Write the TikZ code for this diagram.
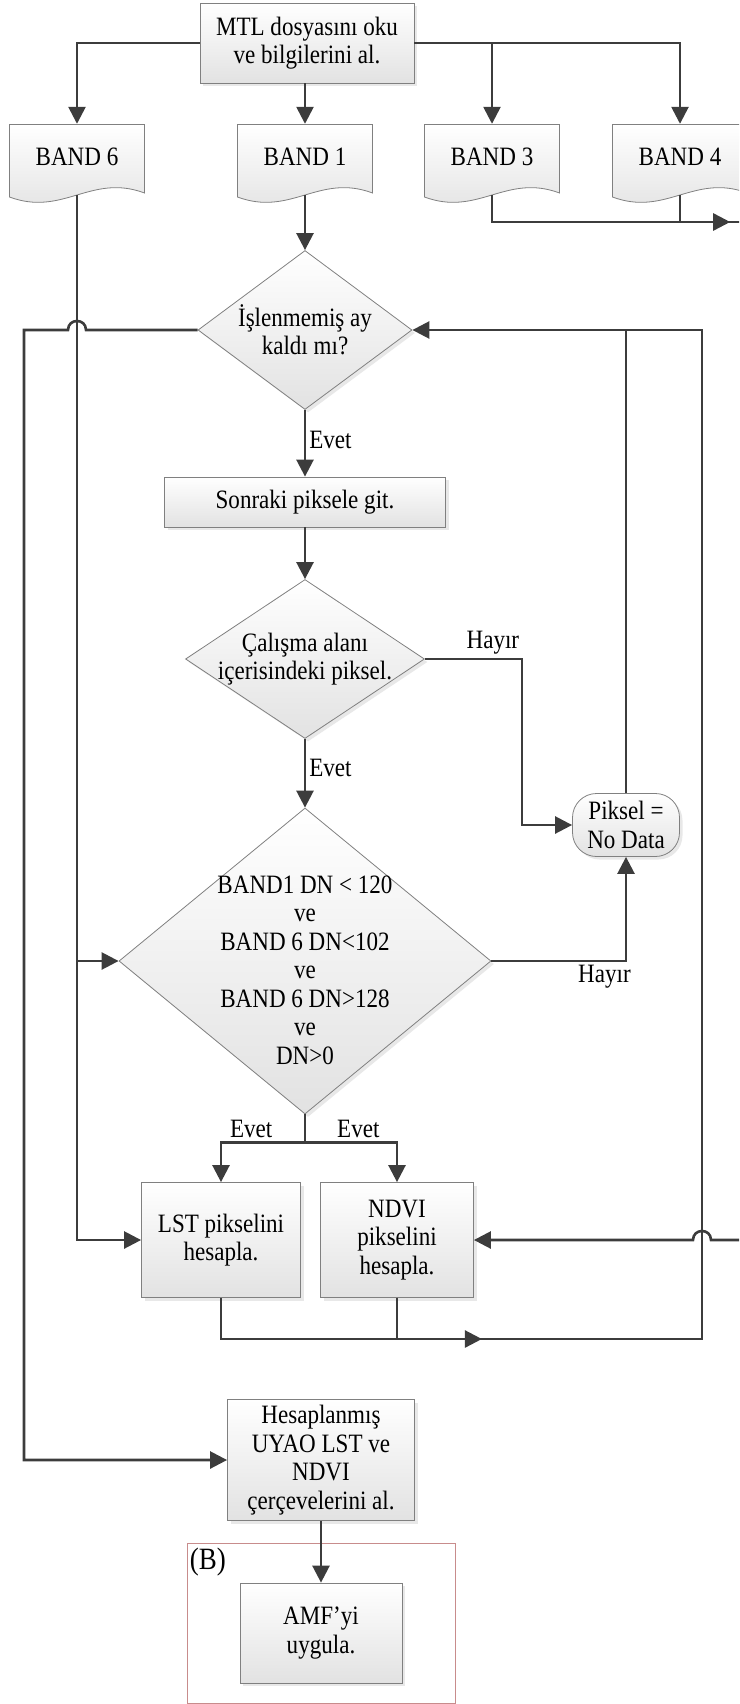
\documentclass[tikz,border=0pt]{standalone}
\usepackage{fontspec}
\setmainfont[FakeStretch=0.87]{Liberation Serif}
\usepackage{tikz}
\usetikzlibrary{arrows.meta, positioning, shapes.geometric, shadows, decorations.markings, calc}

\definecolor{linec}{RGB}{60,60,60}
\definecolor{boxline}{RGB}{128,128,128}
\definecolor{boxbot}{RGB}{226,226,226}
\definecolor{frameB}{RGB}{200,140,140}

\begin{document}
\begin{tikzpicture}[x=1pt, y=-1pt,
            font=\fontsize{26.5}{28.5}\selectfont,
            box/.style={draw=boxline, line width=0.8pt,
                    top color=white, bottom color=boxbot,
                    drop shadow={shadow xshift=3pt, shadow yshift=-3pt, opacity=0.18},
                    align=center, inner sep=2pt},
            decision/.style={box, diamond, inner sep=-25pt},
            pnode/.style={box, rounded corners=24pt,
                    minimum width=107pt, minimum height=63pt},
            doc/.style={minimum width=136pt, minimum height=80pt, inner sep=0pt,
                    path picture={
                        \path[draw=boxline, line width=0.8pt, top color=white, bottom color=boxbot]
                          ([shift={(0.5pt,-0.5pt)}]path picture bounding box.north west)
                          -- ([shift={(-0.5pt,-0.5pt)}]path picture bounding box.north east)
                          -- ([shift={(-0.5pt,11pt)}]path picture bounding box.south east)
                          .. controls ([shift={(-54pt,31pt)}]path picture bounding box.south east)
                          and ([shift={(54pt,-13pt)}]path picture bounding box.south west)
                          .. ([shift={(0.5pt,7pt)}]path picture bounding box.south west) -- cycle;
                    }},
            lbl/.style={inner sep=3pt},
            wire/.style={draw=linec, line width=2.6pt},
            arr/.style={wire, -{Triangle[length=17pt, width=17pt]}},
            midarr/.style={postaction={decorate},
                    decoration={markings, mark=at position #1 with
                        {\arrow[linec]{Triangle[length=17pt, width=17pt]}}}}
        ]

        \useasboundingbox (0,0) rectangle (739,1704);
        \clip (0,0) rectangle (739,1704);

        % ---------------------------------------------------------------
        % NODES
        % ---------------------------------------------------------------

        % Input file and bands
        \node[box, minimum width=214pt, minimum height=80pt] (mtl) at (307,43)
            {MTL dosyasını oku\\ve bilgilerini al.};
        \node[doc] (band6) at (77,164) {\raisebox{7pt}[\height][\depth]{BAND 6}};
        \node[doc] (band1) at (305,164) {\raisebox{7pt}[\height][\depth]{BAND 1}};
        \node[doc] (band3) at (492,164) {\raisebox{7pt}[\height][\depth]{BAND 3}};
        \node[doc] (band4) at (680,164) {\raisebox{7pt}[\height][\depth]{BAND 4}};

        % Pixel loop
        \node[decision, minimum width=214pt, minimum height=159pt] (dec1) at (305,330)
            {İşlenmemiş ay\\kaldı mı?};
        \node[box, minimum width=281pt, minimum height=50pt] (next) at (305,502)
            {Sonraki piksele git.};
        \node[decision, minimum width=239pt, minimum height=159pt] (dec2) at (305,659)
            {Çalışma alanı\\içerisindeki piksel.};
        \node[pnode] (piksel) at (626,825) {Piksel =\\No Data};
        \node[decision, minimum width=372pt, minimum height=306pt] (dec3) at (305,961)
            {\raisebox{-12pt}[\height][\depth]{\begin{tabular}{@{}c@{}}BAND1 DN < 120\\ve\\BAND 6 DN<102\\ve\\BAND 6 DN>128\\ve\\DN>0\end{tabular}}};

        % Calculation
        \node[box, minimum width=159pt, minimum height=115pt] (lst) at (221,1240)
            {LST pikselini\\hesapla.};
        \node[box, minimum width=153pt, minimum height=115pt] (ndvi) at (397,1240)
            {NDVI\\pikselini\\hesapla.};
        \node[box, minimum width=187pt, minimum height=121pt] (hes) at (321,1460)
            {Hesaplanmış\\UYAO LST ve\\NDVI\\çerçevelerini al.};

        % Part (B)
        \node[draw=frameB, line width=0.8pt, minimum width=268pt, minimum height=160pt] (grpB) at (321,1623) {};
        \node[anchor=north west, font=\fontsize{31}{33}\selectfont, inner xsep=3pt, inner ysep=5pt]
            (lblB) at (grpB.north west) {(B)};
        \node[box, minimum width=162pt, minimum height=100pt] (amf) at (321,1633)
            {AMF’yi\\uygula.};

        % ---------------------------------------------------------------
        % CONNECTORS
        % ---------------------------------------------------------------

        % MTL to the bands
        \draw[arr] (mtl.west) -| (band6.north);
        \draw[arr] (band1.north |- mtl.south) -- (band1.north);
        \draw[arr] (mtl.east) -| (band4.north);
        \draw[arr] (band3.north |- mtl.east) -- (band3.north);

        % BAND 3 and BAND 4 leave to the right
        \coordinate (rout) at (760,222);
        \draw[wire, midarr=265pt] ([yshift=9pt]band3.south) |- (rout);
        \draw[wire] ([yshift=9pt]band4.south) -- (band4.south |- rout);

        % BAND 1 into the loop
        \draw[arr] ([yshift=9pt]band1.south) -- (dec1.north);

        % BAND 6 to LST and to the threshold test
        \draw[arr] ([yshift=9pt]band6.south) |- (lst.west);
        \draw[arr] (band6.south |- dec3.west) -- (dec3.west);

        % Loop finished: go to the result (hop over BAND 6)
        \coordinate (lloop) at (24,330);
        \draw[arr] (dec1.west) -- ([xshift=9pt]band6.south |- dec1.west)
            .. controls +(0,-12) and +(0,-12) .. ([xshift=-9pt]band6.south |- dec1.west)
            -- (lloop) |- (hes.west);

        % Main pixel path
        \draw[arr] (dec1.south) -- node[lbl, right, pos=0.45] {Evet} (next.north);
        \draw[arr] (next.south) -- (dec2.north);
        \draw[arr] (dec2.south) -- node[lbl, right, pos=0.42] {Evet} (dec3.north);

        % No branches to No Data
        \coordinate (hbend) at (522,659);
        \draw[arr] (dec2.east) -- node[lbl, above, pos=0.7] {Hayır} (hbend) |- (piksel.west);
        \draw[arr] (dec3.east) -| node[lbl, below, pos=0.42] {Hayır} (piksel.south);
        \draw[wire] (piksel.north) -- (piksel.north |- dec1.east);

        % Yes branches
        \draw[wire] (dec3.south) -- ++(0,28) coordinate (split);
        \draw[arr] (split) -| node[lbl, above, pos=0.32] {Evet} (lst.north);
        \draw[arr] (split) -| node[lbl, above, pos=0.29] {Evet} (ndvi.north);

        % Back to the loop test
        \coordinate (rloop) at (702,1339);
        \draw[arr, midarr=302pt] (lst.south) |- (rloop) |- (dec1.east);
        \draw[wire] (ndvi.south) -- (ndvi.south |- rloop);

        % BAND 3 / BAND 4 back into NDVI (hop over the loop line)
        \coordinate (rin) at (760,1240);
        \draw[arr] (rin) -- ([xshift=9pt]rloop |- ndvi.east)
            .. controls +(0,-12) and +(0,-12) .. ([xshift=-9pt]rloop |- ndvi.east)
            -- (ndvi.east);

        % Result to AMF
        \draw[arr] (hes.south) -- (amf.north);

    \end{tikzpicture}
\end{document}
